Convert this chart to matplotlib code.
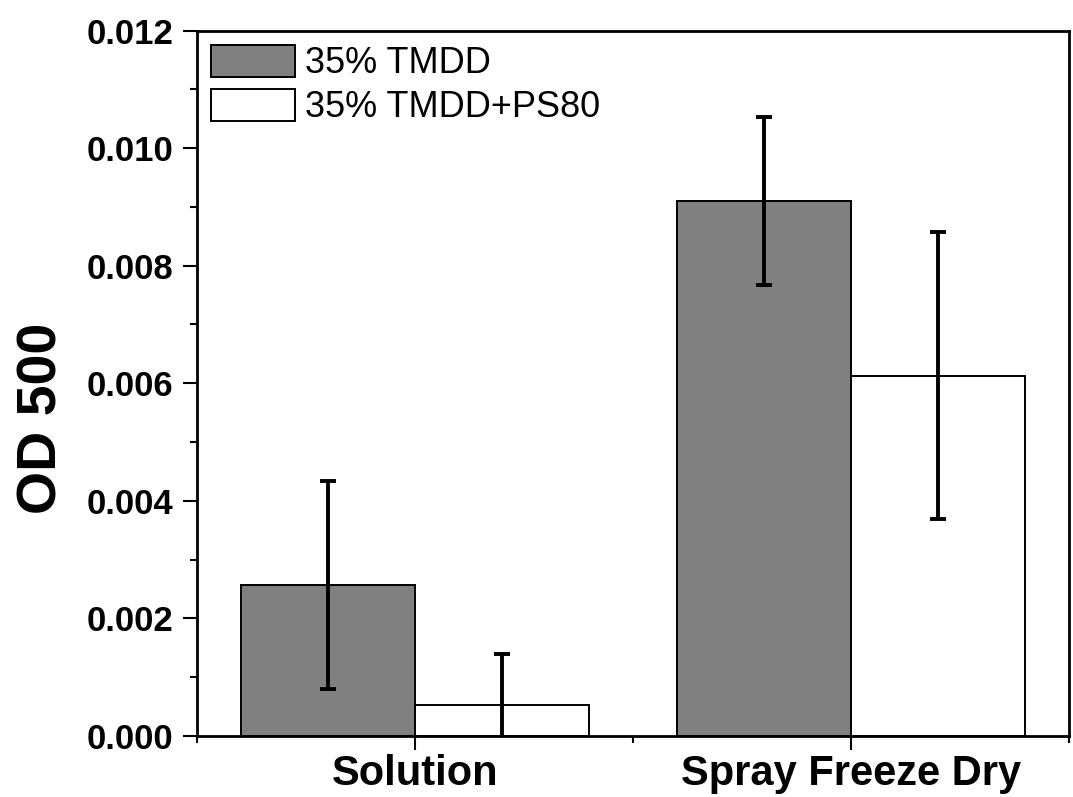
import matplotlib; matplotlib.use("Agg")
import matplotlib.pyplot as plt
from matplotlib.ticker import MultipleLocator, FixedLocator, FuncFormatter
import numpy as np

# OD 500 readings, [Solution, Spray Freeze Dry]
CATEGORIES = ["Solution", "Spray Freeze Dry"]
SERIES = ["35% TMDD", "35% TMDD+PS80"]
TMDD = [0.00257, 0.00910]
TMDD_ERR = [0.00177, 0.00143]
TMDD_PS80 = [0.00052, 0.00613]
TMDD_PS80_ERR = [0.00088, 0.00244]

plt.rcParams["font.family"] = ["Liberation Sans", "DejaVu Sans"]

fig = plt.figure(figsize=(10.73, 7.97), dpi=100)
ax = fig.add_axes([197/1073, 1-736/797, 872/1073, 705.5/797])

x = np.arange(1, len(CATEGORIES) + 1); w = 0.4
ekw = dict(elinewidth=2.8, capsize=6, capthick=2.8, ecolor="black")
ax.bar(x - w/2, TMDD, w, yerr=TMDD_ERR, color="#808080", edgecolor="black", linewidth=1.4,
       label=SERIES[0], error_kw=ekw)
ax.bar(x + w/2, TMDD_PS80, w, yerr=TMDD_PS80_ERR, color="white", edgecolor="black", linewidth=1.4,
       label=SERIES[1], error_kw=ekw)

ax.set_xlim(0.5, 2.5); ax.set_ylim(0, 0.012)
ax.set_xticks(x); ax.set_xticklabels(CATEGORIES, fontweight="bold", fontsize=30)
ax.xaxis.set_minor_locator(FixedLocator([0.5, 1.5, 2.5]))
ax.yaxis.set_major_locator(MultipleLocator(0.002)); ax.yaxis.set_minor_locator(MultipleLocator(0.001))
ax.yaxis.set_major_formatter(FuncFormatter(lambda v, p: f"{v:.3f}"))
for lab in ax.get_yticklabels():
    lab.set_fontweight("bold"); lab.set_fontsize(25)
ax.tick_params(axis="y", which="major", direction="out", length=10, width=1.5, pad=7, right=False)
ax.tick_params(axis="y", which="minor", direction="out", length=5, width=1.5, right=False)
ax.tick_params(axis="x", which="major", direction="out", length=10, width=1.5, pad=3, top=False)
ax.tick_params(axis="x", which="minor", direction="out", length=5, width=1.5, top=False)
for s in ax.spines.values():
    s.set_linewidth(2)

fig.text(43/1073, 1-418/797, "OD 500", rotation=90, ha="center", va="center",
         fontweight="bold", fontsize=40)

ax.legend(loc="upper left", frameon=False, fontsize=26, handlelength=2.3, handleheight=1.0,
          handletextpad=0.3, labelspacing=0.2, borderaxespad=0.2, borderpad=0.2)

fig.savefig("out.png", dpi=100)
